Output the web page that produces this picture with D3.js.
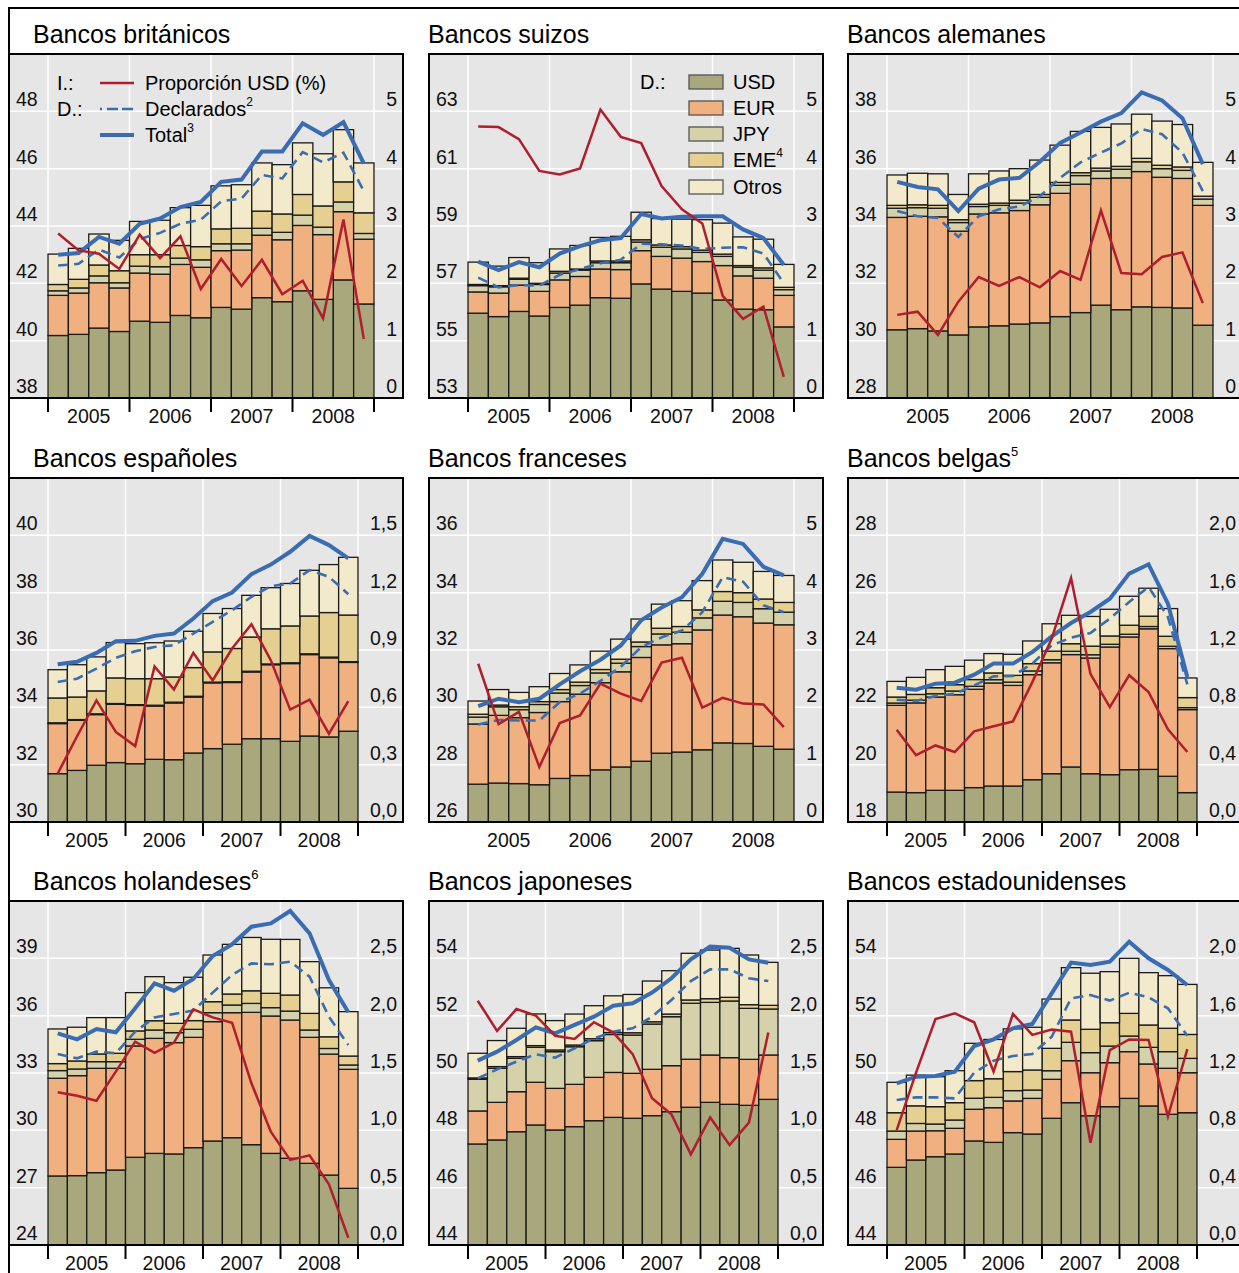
<!DOCTYPE html>
<html>
<head>
<meta charset="utf-8">
<script src="https://cdn.jsdelivr.net/npm/d3@7"></script>
<style>
  body { margin: 0; background: #fff; }
  svg { display: block; font-family: "Liberation Sans", Arial, sans-serif; }
</style>
</head>
<body>
<svg id="chart" width="1239" height="1273"></svg>
<script>
// quarters 2005 Q1 .. 2008 Q4
const years = ["2005", "2006", "2007", "2008"];
const keys = ["usd", "eur", "jpy", "eme", "otros"];
const keyLabels = ["USD", "EUR", "JPY", "EME", "Otros"];

// Bancos británicos
const ukUsd = [1.09,1.11,1.22,1.16,1.34,1.32,1.44,1.40,1.58,1.55,1.75,1.68,1.87,1.72,2.06,1.64];
const ukEur = [0.70,0.72,0.79,0.76,0.84,0.84,0.89,0.88,0.99,1.03,1.09,1.08,1.14,1.13,1.19,1.13];
const ukJpy = [0.08,0.09,0.12,0.09,0.12,0.13,0.11,0.13,0.12,0.11,0.12,0.13,0.18,0.13,0.17,0.10];
const ukEme = [0.11,0.15,0.19,0.21,0.20,0.21,0.22,0.23,0.26,0.27,0.30,0.32,0.36,0.37,0.35,0.36];
const ukOtros = [0.53,0.54,0.54,0.53,0.58,0.60,0.66,0.72,0.75,0.76,0.84,0.86,0.90,0.91,0.91,0.87];
const ukShare = [43.74,43.15,43.03,42.50,43.70,42.88,43.64,41.80,42.85,41.91,42.82,41.62,42.09,40.78,44.23,40.06];
const ukTotal = [2.50,2.53,2.81,2.69,3.04,3.13,3.33,3.42,3.77,3.81,4.30,4.30,4.79,4.59,4.81,4.09];
const ukDecl = [2.31,2.34,2.59,2.45,2.77,2.88,3.04,3.11,3.43,3.48,3.89,3.83,4.29,4.11,4.28,3.61];

// Bancos suizos
const chUsd = [1.48,1.42,1.51,1.43,1.58,1.62,1.75,1.74,1.99,1.90,1.86,1.83,1.71,1.55,1.54,1.24];
const chEur = [0.37,0.41,0.46,0.43,0.48,0.50,0.50,0.50,0.58,0.57,0.58,0.55,0.60,0.58,0.55,0.55];
const chJpy = [0.11,0.11,0.10,0.12,0.12,0.11,0.11,0.12,0.15,0.16,0.16,0.16,0.16,0.15,0.14,0.10];
const chEme = [0.02,0.02,0.02,0.02,0.03,0.02,0.03,0.03,0.04,0.04,0.04,0.04,0.04,0.03,0.04,0.04];
const chOtros = [0.39,0.34,0.36,0.36,0.39,0.41,0.41,0.43,0.48,0.46,0.48,0.53,0.54,0.50,0.50,0.40];
const chShare = [62.47,62.45,62.03,60.92,60.80,61.01,63.06,62.11,61.89,60.39,59.58,59.09,56.56,55.76,56.19,53.74];
const chTotal = [2.38,2.23,2.37,2.28,2.52,2.65,2.75,2.79,3.21,3.13,3.16,3.17,3.17,2.94,2.79,2.32];
const chDecl = [2.10,1.93,1.97,1.96,2.15,2.25,2.35,2.41,2.69,2.68,2.66,2.60,2.62,2.63,2.52,2.00];

// Bancos alemanes
const deUsd = [1.19,1.21,1.17,1.10,1.24,1.26,1.29,1.31,1.42,1.49,1.62,1.54,1.59,1.58,1.57,1.27];
const deEur = [1.96,1.96,1.99,1.81,1.97,1.97,1.98,2.06,2.15,2.24,2.21,2.30,2.36,2.27,2.26,2.09];
const deJpy = [0.16,0.15,0.15,0.15,0.13,0.13,0.13,0.13,0.14,0.15,0.13,0.15,0.17,0.15,0.14,0.11];
const deEme = [0.05,0.05,0.05,0.05,0.04,0.04,0.05,0.05,0.05,0.05,0.05,0.05,0.06,0.06,0.06,0.05];
const deOtros = [0.53,0.55,0.55,0.44,0.53,0.56,0.55,0.60,0.65,0.72,0.71,0.74,0.77,0.77,0.74,0.59];
const deShare = [30.90,31.01,30.20,31.36,32.22,31.91,32.22,31.86,32.43,32.12,34.54,32.36,32.32,32.92,33.08,31.31];
const deTotal = [3.77,3.68,3.64,3.26,3.65,3.81,3.84,4.12,4.45,4.63,4.82,4.97,5.33,5.19,4.88,4.08];
const deDecl = [3.26,3.17,3.14,2.81,3.17,3.29,3.34,3.52,3.84,4.11,4.28,4.44,4.69,4.60,4.28,3.61];

// Bancos españoles
const esUsd = [0.253,0.270,0.297,0.311,0.305,0.328,0.326,0.361,0.384,0.407,0.436,0.436,0.422,0.450,0.445,0.475];
const esEur = [0.262,0.262,0.265,0.305,0.305,0.279,0.297,0.293,0.344,0.323,0.349,0.387,0.407,0.426,0.414,0.360];
const esJpy = [0.004,0.004,0.004,0.004,0.004,0.004,0.004,0.004,0.004,0.004,0.004,0.004,0.004,0.004,0.004,0.004];
const esEme = [0.130,0.118,0.120,0.134,0.136,0.139,0.132,0.150,0.158,0.174,0.179,0.184,0.193,0.198,0.233,0.244];
const esOtros = [0.148,0.169,0.178,0.185,0.183,0.188,0.188,0.190,0.201,0.209,0.218,0.215,0.222,0.239,0.251,0.302];
const esShare = [31.69,32.99,34.24,33.14,32.65,35.43,34.62,35.90,34.94,36.05,36.90,35.64,33.92,34.27,33.08,34.22];
const esTotal = [0.825,0.838,0.885,0.946,0.948,0.974,0.986,1.065,1.156,1.201,1.297,1.347,1.414,1.497,1.449,1.379];
const esDecl = [0.733,0.750,0.803,0.859,0.894,0.916,0.925,0.986,1.047,1.108,1.178,1.234,1.248,1.318,1.283,1.192];

// Bancos franceses
const frUsd = [0.66,0.68,0.67,0.65,0.76,0.81,0.91,0.96,1.06,1.20,1.22,1.26,1.38,1.37,1.32,1.27];
const frEur = [1.05,1.18,1.15,1.26,1.34,1.42,1.52,1.66,1.81,1.89,1.89,2.09,2.23,2.21,2.15,2.17];
const frJpy = [0.12,0.15,0.14,0.14,0.15,0.15,0.17,0.15,0.19,0.19,0.20,0.21,0.24,0.25,0.25,0.22];
const frEme = [0.05,0.03,0.05,0.05,0.06,0.06,0.06,0.07,0.08,0.10,0.10,0.14,0.17,0.17,0.17,0.17];
const frOtros = [0.23,0.27,0.25,0.26,0.28,0.30,0.32,0.35,0.40,0.42,0.45,0.51,0.55,0.53,0.48,0.47];
const frShare = [31.52,29.41,29.84,27.92,29.45,29.72,30.83,30.48,30.22,31.56,31.73,29.99,30.33,30.13,30.10,29.31];
const frTotal = [2.02,2.15,2.09,2.15,2.40,2.63,2.83,3.08,3.52,3.74,3.92,4.33,4.94,4.85,4.45,4.30];
const frDecl = [1.70,1.78,1.77,1.77,2.09,2.24,2.46,2.71,3.05,3.22,3.34,3.66,4.27,4.19,3.78,3.66];

// Bancos belgas
const beUsd = [0.209,0.205,0.221,0.221,0.240,0.251,0.251,0.295,0.337,0.384,0.337,0.330,0.365,0.367,0.319,0.205];
const beEur = [0.605,0.626,0.651,0.667,0.686,0.719,0.702,0.733,0.774,0.784,0.807,0.891,0.926,0.981,0.891,0.579];
const beJpy = [0.016,0.019,0.023,0.026,0.021,0.023,0.023,0.026,0.021,0.023,0.023,0.019,0.019,0.016,0.016,0.014];
const beEme = [0.042,0.040,0.042,0.044,0.047,0.047,0.047,0.051,0.060,0.053,0.060,0.058,0.063,0.072,0.070,0.070];
const beOtros = [0.109,0.119,0.126,0.128,0.135,0.135,0.147,0.158,0.191,0.198,0.207,0.186,0.202,0.195,0.193,0.137];
const beShare = [21.22,20.33,20.67,20.44,21.16,21.34,21.51,22.88,24.40,26.51,23.17,22.01,23.12,22.53,21.23,20.44];
const beTotal = [0.937,0.923,0.965,0.972,1.028,1.105,1.105,1.186,1.295,1.388,1.465,1.558,1.733,1.798,1.523,1.012];
const beDecl = [0.853,0.844,0.879,0.895,0.953,1.016,1.019,1.105,1.233,1.286,1.319,1.419,1.535,1.640,1.430,0.960];

// Bancos holandeses
const nlUsd = [0.602,0.605,0.631,0.654,0.765,0.799,0.794,0.849,0.907,0.936,0.875,0.799,0.756,0.712,0.610,0.494];
const nlEur = [0.852,0.872,0.910,0.887,0.971,1.003,0.971,0.962,1.041,1.090,1.154,1.198,1.206,1.099,1.055,1.038];
const nlJpy = [0.067,0.058,0.058,0.058,0.058,0.073,0.087,0.070,0.078,0.067,0.078,0.073,0.078,0.064,0.049,0.038];
const nlEme = [0.061,0.070,0.067,0.073,0.073,0.081,0.081,0.076,0.096,0.096,0.110,0.125,0.140,0.145,0.102,0.078];
const nlOtros = [0.302,0.294,0.317,0.311,0.334,0.384,0.355,0.378,0.407,0.433,0.465,0.471,0.485,0.451,0.427,0.387];
const nlShare = [31.99,31.81,31.55,33.07,34.64,34.06,34.59,36.33,35.91,35.63,32.46,29.93,28.45,28.69,27.17,24.38];
const nlTotal = [1.846,1.794,1.884,1.855,2.064,2.282,2.218,2.320,2.520,2.622,2.776,2.805,2.913,2.718,2.311,2.029];
const nlDecl = [1.666,1.628,1.686,1.672,1.860,1.985,2.015,2.044,2.201,2.355,2.456,2.448,2.471,2.340,1.991,1.744];

// Bancos japoneses
const jpUsd = [0.881,0.916,0.988,1.047,1.003,1.032,1.084,1.113,1.105,1.128,1.163,1.201,1.244,1.227,1.218,1.270];
const jpEur = [0.288,0.328,0.349,0.372,0.363,0.369,0.378,0.392,0.392,0.404,0.401,0.419,0.413,0.407,0.401,0.387];
const jpJpy = [0.276,0.297,0.291,0.305,0.320,0.328,0.320,0.331,0.334,0.395,0.427,0.488,0.459,0.494,0.445,0.401];
const jpEme = [0.012,0.015,0.015,0.015,0.015,0.015,0.017,0.017,0.020,0.020,0.023,0.029,0.032,0.032,0.032,0.032];
const jpOtros = [0.215,0.227,0.247,0.276,0.256,0.270,0.288,0.320,0.334,0.355,0.378,0.407,0.424,0.427,0.433,0.375];
const jpShare = [52.52,51.47,52.23,52.00,51.30,51.19,51.77,51.41,50.66,49.12,48.56,47.16,48.45,47.49,48.27,51.41];
const jpTotal = [1.608,1.686,1.788,1.898,1.846,1.919,1.991,2.087,2.108,2.201,2.326,2.491,2.602,2.593,2.491,2.462];
const jpDecl = [1.453,1.532,1.599,1.663,1.634,1.715,1.802,1.860,1.890,1.991,2.137,2.302,2.404,2.404,2.326,2.302];

// Bancos estadounidenses
const usUsd = [0.542,0.593,0.616,0.635,0.726,0.716,0.784,0.774,0.884,0.993,0.902,0.965,1.023,0.970,0.912,0.923];
const usEur = [0.195,0.202,0.181,0.179,0.221,0.242,0.221,0.249,0.272,0.293,0.300,0.307,0.326,0.293,0.321,0.279];
const usJpy = [0.058,0.053,0.047,0.058,0.077,0.072,0.072,0.058,0.060,0.128,0.140,0.116,0.109,0.116,0.116,0.100];
const usEme = [0.128,0.123,0.121,0.121,0.123,0.130,0.133,0.140,0.156,0.156,0.163,0.163,0.158,0.156,0.163,0.167];
const usOtros = [0.212,0.214,0.209,0.223,0.260,0.274,0.298,0.298,0.344,0.365,0.391,0.356,0.384,0.365,0.367,0.349];
const usShare = [48.01,50.01,51.88,52.08,51.77,50.05,52.06,51.33,51.52,51.44,47.57,50.80,51.17,51.15,48.48,50.83];
const usTotal = [1.128,1.174,1.179,1.209,1.388,1.435,1.512,1.542,1.756,1.970,1.953,1.977,2.116,2.000,1.919,1.814];
const usDecl = [1.012,1.030,1.030,1.023,1.202,1.286,1.319,1.333,1.453,1.721,1.744,1.705,1.760,1.728,1.651,1.460];

const colors = { usd: "#a8a87c", eur: "#f0b080", jpy: "#d5d1ab", eme: "#e5d092", otros: "#f3eacb" };
const red = "#b01e2e", blue = "#3a6cb4";

const panels = [
  { title: "Bancos británicos", sup: "", col: 0, row: 0, lMin: 38, lStep: 2, rStep: 1, dec: false, ticks: true,
    usd: ukUsd, eur: ukEur, jpy: ukJpy, eme: ukEme, otros: ukOtros, share: ukShare, total: ukTotal, decl: ukDecl },
  { title: "Bancos suizos", sup: "", col: 1, row: 0, lMin: 53, lStep: 2, rStep: 1, dec: false, ticks: true,
    usd: chUsd, eur: chEur, jpy: chJpy, eme: chEme, otros: chOtros, share: chShare, total: chTotal, decl: chDecl },
  { title: "Bancos alemanes", sup: "", col: 2, row: 0, lMin: 28, lStep: 2, rStep: 1, dec: false, ticks: false,
    usd: deUsd, eur: deEur, jpy: deJpy, eme: deEme, otros: deOtros, share: deShare, total: deTotal, decl: deDecl },
  { title: "Bancos españoles", sup: "", col: 0, row: 1, lMin: 30, lStep: 2, rStep: 0.3, dec: true, ticks: true,
    usd: esUsd, eur: esEur, jpy: esJpy, eme: esEme, otros: esOtros, share: esShare, total: esTotal, decl: esDecl },
  { title: "Bancos franceses", sup: "", col: 1, row: 1, lMin: 26, lStep: 2, rStep: 1, dec: false, ticks: false,
    usd: frUsd, eur: frEur, jpy: frJpy, eme: frEme, otros: frOtros, share: frShare, total: frTotal, decl: frDecl },
  { title: "Bancos belgas", sup: "5", col: 2, row: 1, lMin: 18, lStep: 2, rStep: 0.4, dec: true, ticks: true,
    usd: beUsd, eur: beEur, jpy: beJpy, eme: beEme, otros: beOtros, share: beShare, total: beTotal, decl: beDecl },
  { title: "Bancos holandeses", sup: "6", col: 0, row: 2, lMin: 24, lStep: 3, rStep: 0.5, dec: true, ticks: true,
    usd: nlUsd, eur: nlEur, jpy: nlJpy, eme: nlEme, otros: nlOtros, share: nlShare, total: nlTotal, decl: nlDecl },
  { title: "Bancos japoneses", sup: "", col: 1, row: 2, lMin: 44, lStep: 2, rStep: 0.5, dec: true, ticks: true,
    usd: jpUsd, eur: jpEur, jpy: jpJpy, eme: jpEme, otros: jpOtros, share: jpShare, total: jpTotal, decl: jpDecl },
  { title: "Bancos estadounidenses", sup: "", col: 2, row: 2, lMin: 44, lStep: 2, rStep: 0.4, dec: true, ticks: true,
    usd: usUsd, eur: usEur, jpy: usJpy, eme: usEme, otros: usOtros, share: usShare, total: usTotal, decl: usDecl }
];

const svg = d3.select("#chart");
svg.append("rect").attr("width", 1239).attr("height", 1273).attr("fill", "#fff");

const colX = [9, 429, 848];
const rowY = [54, 478, 901];
const titleX = [33, 428, 847];
const pw = 394, ph = 344;

const esLocale = d3.formatLocale({ decimal: ",", thousands: ".", grouping: [3], currency: ["", "€"] });
const fmtDec = esLocale.format(".1f");
const fmtInt = d3.format("d");

panels.forEach(p => {
  const x0 = colX[p.col], y0 = rowY[p.row], y1 = y0 + ph;
  const barRight = x0 + (p.dec ? 349 : 365);
  const g = svg.append("g");

  const x = d3.scaleBand().domain(d3.range(16)).range([x0 + 39, barRight]).padding(0);
  const yR = d3.scaleLinear().domain([0, 6 * p.rStep]).range([y1, y0]);
  const yL = d3.scaleLinear().domain([p.lMin, p.lMin + 6 * p.lStep]).range([y1, y0]);
  const rTicks = d3.range(6).map(i => +(i * p.rStep).toFixed(2));
  const lTicks = d3.range(6).map(i => p.lMin + i * p.lStep);
  const bounds = [0, 4, 8, 12].map(i => x(i)).concat([barRight]);

  g.append("rect").attr("x", x0).attr("y", y0).attr("width", pw).attr("height", ph).attr("fill", "#e6e6e6");

  // grid
  g.selectAll(".hg").data(rTicks.slice(1)).join("line")
    .attr("x1", x0).attr("x2", x0 + pw)
    .attr("y1", d => yR(d)).attr("y2", d => yR(d))
    .attr("stroke", "#fff").attr("stroke-width", 1.5);
  g.selectAll(".vg").data(bounds).join("line")
    .attr("x1", d => d).attr("x2", d => d)
    .attr("y1", y0).attr("y2", y1)
    .attr("stroke", "#fff").attr("stroke-width", 1.5);

  // stacked bars
  const rows = d3.range(16).map(i => ({ i, usd: p.usd[i], eur: p.eur[i], jpy: p.jpy[i], eme: p.eme[i], otros: p.otros[i] }));
  const series = d3.stack().keys(keys)(rows);
  g.selectAll(".layer").data(series).join("g")
    .attr("fill", d => colors[d.key])
    .selectAll("rect").data(d => d).join("rect")
    .attr("x", d => x(d.data.i))
    .attr("width", x.bandwidth())
    .attr("y", d => yR(d[1]))
    .attr("height", d => yR(d[0]) - yR(d[1]))
    .attr("stroke", "#1a1a1a").attr("stroke-width", 1.3);

  // lines
  const cx = i => x(i) + x.bandwidth() / 2;
  const lineR = d3.line().x((d, i) => cx(i)).y(d => yR(d));
  const lineL = d3.line().x((d, i) => cx(i)).y(d => yL(d));
  g.append("path").datum(p.decl).attr("d", lineR).attr("fill", "none")
    .attr("stroke", blue).attr("stroke-width", 2.6).attr("stroke-dasharray", "10,6");
  g.append("path").datum(p.total).attr("d", lineR).attr("fill", "none")
    .attr("stroke", blue).attr("stroke-width", 4);
  g.append("path").datum(p.share).attr("d", lineL).attr("fill", "none")
    .attr("stroke", red).attr("stroke-width", 2.5);

  // frame
  g.append("rect").attr("x", x0).attr("y", y0).attr("width", pw).attr("height", ph)
    .attr("fill", "none").attr("stroke", "#000").attr("stroke-width", 2);

  // axis labels
  g.selectAll(".ll").data(lTicks).join("text")
    .attr("x", x0 + 7).attr("y", d => yL(d) - 5)
    .attr("font-size", 19.5).attr("fill", "#111")
    .text(d => fmtInt(d));
  g.selectAll(".rl").data(rTicks).join("text")
    .attr("x", x0 + pw - 6).attr("y", d => yR(d) - 5)
    .attr("text-anchor", "end").attr("font-size", 19.5).attr("fill", "#111")
    .text(d => p.dec ? fmtDec(d) : fmtInt(d));

  // year ticks and labels
  if (p.ticks) {
    g.selectAll(".yt").data(bounds).join("line")
      .attr("x1", d => d).attr("x2", d => d)
      .attr("y1", y1).attr("y2", y1 + 14)
      .attr("stroke", "#000").attr("stroke-width", 2);
  }
  g.selectAll(".yl").data(years).join("text")
    .attr("x", (d, i) => (bounds[i] + bounds[i + 1]) / 2)
    .attr("y", y1 + 25)
    .attr("text-anchor", "middle").attr("font-size", 19.5).attr("fill", "#111")
    .text(d => d);

  // title
  const t = g.append("text").attr("x", titleX[p.col]).attr("y", y0 - 11)
    .attr("font-size", 25).attr("fill", "#000").text(p.title);
  if (p.sup) t.append("tspan").attr("font-size", 13).attr("dy", -11).text(p.sup);

  p.g = g;
});

// legend, panel 1
{
  const g = panels[0].g;
  const lx = 57;
  const items = [
    { y: 83, pre: "I.:", text: "Proporción USD (%)", sup: "", stroke: red, w: 2.5, dash: null },
    { y: 109, pre: "D.:", text: "Declarados", sup: "2", stroke: blue, w: 2.6, dash: "2,5,11,4,11" },
    { y: 135, pre: "", text: "Total", sup: "3", stroke: blue, w: 4, dash: null }
  ];
  items.forEach(it => {
    if (it.pre) g.append("text").attr("x", lx).attr("y", it.y + 7).attr("font-size", 20).text(it.pre);
    g.append("line").attr("x1", 100).attr("x2", 134).attr("y1", it.y).attr("y2", it.y)
      .attr("stroke", it.stroke).attr("stroke-width", it.w)
      .attr("stroke-dasharray", it.dash);
    const t = g.append("text").attr("x", 145).attr("y", it.y + 7).attr("font-size", 20).text(it.text);
    if (it.sup) t.append("tspan").attr("font-size", 12).attr("dy", -10).text(it.sup);
  });
}

// legend, panel 2
{
  const g = panels[1].g;
  g.append("text").attr("x", 640).attr("y", 89).attr("font-size", 20).text("D.:");
  const ly = [82, 108, 134, 160, 187];
  keys.forEach((k, i) => {
    g.append("rect").attr("x", 689).attr("y", ly[i] - 7).attr("width", 34).attr("height", 14)
      .attr("fill", colors[k]).attr("stroke", "#555").attr("stroke-width", 1.3);
    const t = g.append("text").attr("x", 733).attr("y", ly[i] + 7).attr("font-size", 20).text(keyLabels[i]);
    if (k === "eme") t.append("tspan").attr("font-size", 12).attr("dy", -10).text("4");
  });
}

// outer rules
svg.append("line").attr("x1", 9).attr("x2", 1239).attr("y1", 8).attr("y2", 8)
  .attr("stroke", "#000").attr("stroke-width", 2);
svg.append("line").attr("x1", 9).attr("x2", 9).attr("y1", 7).attr("y2", 1273)
  .attr("stroke", "#000").attr("stroke-width", 2);
</script>
</body>
</html>
